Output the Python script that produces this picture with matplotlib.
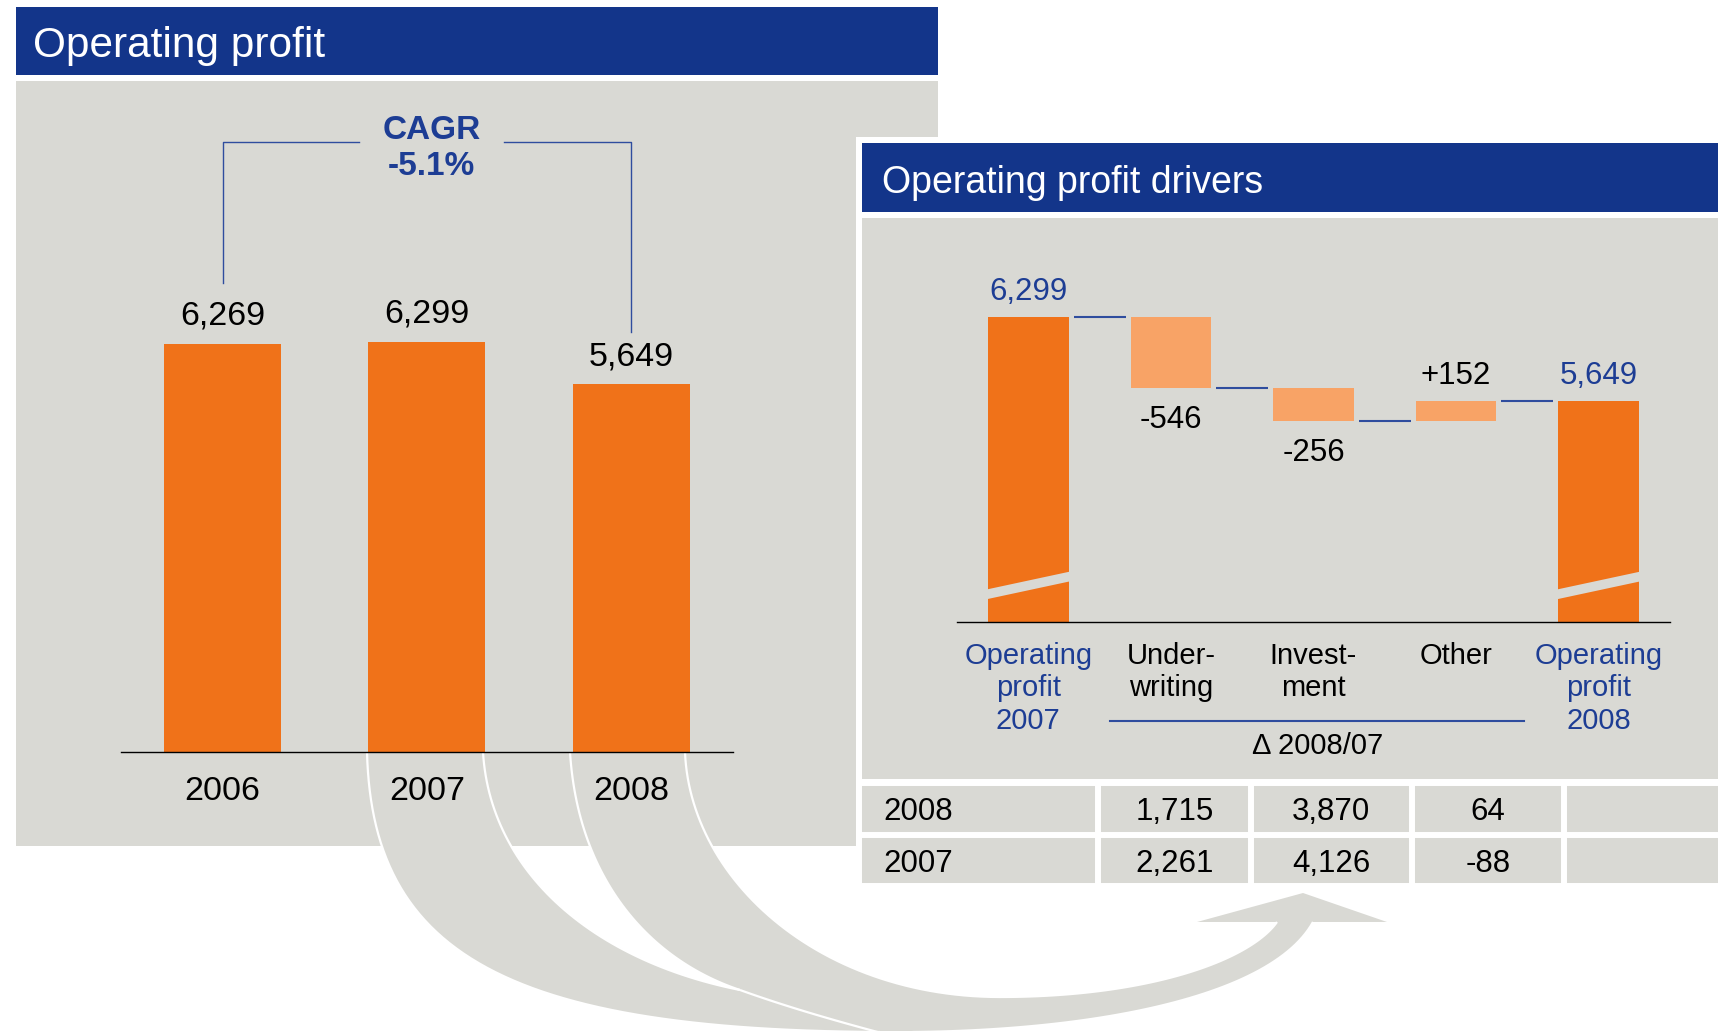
import numpy as np
import matplotlib
matplotlib.use("Agg")
import matplotlib.pyplot as plt
import matplotlib.transforms as mtransforms
from matplotlib.patches import Rectangle, Polygon

# ---------------- data ----------------
years = ["2006", "2007", "2008"]
op_profit = [6269, 6299, 5649]
cagr_title = "CAGR"
cagr_value = "-5.1%"

wf_categories = ["Operating\nprofit\n2007", "Under-\nwriting", "Invest-\nment", "Other",
                 "Operating\nprofit\n2008"]
wf_start = 6299
wf_deltas = [-546, -256, 152]
wf_delta_labels = ["-546", "-256", "+152"]
wf_end = 5649
delta_caption = "\u0394 2008/07"

table_years = ["2008", "2007"]
table_underwriting = [1715, 2261]
table_investment = [3870, 4126]
table_other = [64, -88]

title_left = "Operating profit"
title_right = "Operating profit drivers"

# ---------------- style ----------------
ORANGE = '#F07219'
LIGHT_ORANGE = '#F8A366'
NAVY = '#13358A'
BLUE_TXT = '#1D3D94'
LINE_BLUE = '#2F4D9E'
GRAY = '#D9D9D4'

plt.rcParams['font.family'] = ['Liberation Sans', 'DejaVu Sans']

W, H = 1718, 1031
fig = plt.figure(figsize=(W / 100, H / 100), dpi=100)
fig.patch.set_facecolor('white')


def frac(x0, y0, x1, y1):
    return [x0 / W, 1 - y1 / H, (x1 - x0) / W, (y1 - y0) / H]


def bez(*segments, n=60):
    """Chain of cubic Bezier segments, each given as (p0, p1, p2, p3)."""
    out = []
    t = np.linspace(0, 1, n)[:, None]
    for (p0, p1, p2, p3) in segments:
        p0, p1, p2, p3 = map(np.asarray, (p0, p1, p2, p3))
        out.append((1 - t) ** 3 * p0 + 3 * (1 - t) ** 2 * t * p1
                   + 3 * (1 - t) * t ** 2 * p2 + t ** 3 * p3)
    return np.vstack(out)


# ---------------- background layer ----------------
bg = fig.add_axes([0, 0, 1, 1], zorder=0)
bg.set_xlim(0, W)
bg.set_ylim(H, 0)
bg.axis('off')

bg.add_patch(Rectangle((16, 7), 922, 68, color=NAVY, lw=0))
bg.add_patch(Rectangle((16, 81), 922, 765, color=GRAY, lw=0))
bg.text(33, 56.5, title_left, color='white', fontsize=30.5, va='baseline', ha='left')

# decorative flow arrow
M = (740, 990)
LA = bez(((367, 752), (372, 950), (500, 1030), (880, 1032)),
         ((880, 1032), (1080, 1034), (1270, 1000), (1313, 922)))
RB = bez(((685, 752), (690, 880), (820, 997), (1000, 997)),
         ((1000, 997), (1150, 997), (1250, 960), (1277, 922)))
RA = bez(((483, 752), (490, 870), (590, 960), M))
LB = bez(((570, 752), (578, 880), (650, 960), M))
CONT = bez((M, (790, 1008), (840, 1022), (885, 1034)))
head = np.array([(1387, 922), (1303, 893), (1197, 922)])

poly = np.vstack([LA, head, RB[::-1], LB, RA[::-1]])
bg.add_patch(Polygon(poly, closed=True, color=GRAY, lw=0, zorder=1))
for c in (LA, RA, LB, RB, CONT):
    bg.plot(c[:, 0], c[:, 1], color='white', lw=1.6, zorder=2, solid_capstyle='butt')

# ---------------- left bar chart ----------------
ax1 = fig.add_axes(frac(120.5, 81, 733.25, 752), zorder=1)
ax1.patch.set_visible(False)
x1 = np.arange(len(years))
ax1.bar(x1, op_profit, width=0.573, color=ORANGE, lw=0)
ax1.set_xlim(-0.5, 2.5)
ax1.set_ylim(0, 10310)
for s in ['top', 'right', 'left']:
    ax1.spines[s].set_visible(False)
ax1.spines['bottom'].set_linewidth(1.0)
ax1.set_xticks([])
ax1.set_yticks([])
for i, v in enumerate(op_profit):
    ax1.annotate(f"{v:,}", (i, v), xytext=(0, 22.5), textcoords='offset points',
                 ha='center', va='center_baseline', fontsize=24.5)
    ax1.annotate(years[i], (i, 0), xytext=(0, -25.9), textcoords='offset points',
                 ha='center', va='center_baseline', fontsize=24.5, annotation_clip=False)

# CAGR bracket
br_y = 9373
ax1.plot([0, 0, 0.668], [7206, br_y, br_y], color=LINE_BLUE, lw=1.0)
ax1.plot([1.378, 2, 2], [br_y, br_y, 6453], color=LINE_BLUE, lw=1.0)
ax1.text(1.023, 9603, cagr_title, ha='center', va='center_baseline', fontsize=24,
         fontweight='bold', color=BLUE_TXT)
ax1.text(1.023, 9050, cagr_value, ha='center', va='center_baseline', fontsize=24,
         fontweight='bold', color=BLUE_TXT)

# ---------------- right panel background ----------------
fg = fig.add_axes([0, 0, 1, 1], zorder=2)
fg.set_xlim(0, W)
fg.set_ylim(H, 0)
fg.axis('off')
fg.patch.set_visible(False)
fg.add_patch(Rectangle((856, 137), W - 856, 749, color='white', lw=0))
fg.add_patch(Rectangle((862, 143), W - 862, 69, color=NAVY, lw=0))
fg.add_patch(Rectangle((862, 218), W - 862, 561, color=GRAY, lw=0))
fg.text(882, 193, title_right, color='white', fontsize=27, va='baseline', ha='left')

# ---------------- waterfall ----------------
ax2 = fig.add_axes(frac(957, 218, 1670, 621.5), zorder=3)
ax2.patch.set_visible(False)
ax2.set_xlim(-0.5, 4.5)
ax2.set_ylim(3957, 7060)
for s in ['top', 'right', 'left']:
    ax2.spines[s].set_visible(False)
ax2.spines['bottom'].set_linewidth(1.0)
ax2.set_xticks([])
ax2.set_yticks([])

bw = 0.565
ax2.bar([0, 4], [wf_start, wf_end], width=bw, color=ORANGE, lw=0, zorder=2)
levels = [wf_start]
for d in wf_deltas:
    levels.append(levels[-1] + d)
for k, d in enumerate(wf_deltas):
    lo = min(levels[k], levels[k + 1])
    ax2.bar(k + 1, abs(d), bottom=lo, width=bw, color=LIGHT_ORANGE, lw=0, zorder=2)

# axis-break marks on the total bars
for i in (0, 4):
    ax2.add_patch(Polygon([(i - 0.31, 4199), (i + 0.31, 4345), (i + 0.31, 4270),
                           (i - 0.31, 4124)], closed=True, color=GRAY, lw=0, zorder=3))

# connectors
for i in range(4):
    lvl = levels[i] if i < 3 else wf_end
    ax2.plot([i + bw / 2 + 0.035, i + 1 - bw / 2 - 0.035], [lvl, lvl], color=LINE_BLUE,
             lw=1.5, zorder=2, solid_capstyle='butt')

# value labels
ax2.annotate(f"{wf_start:,}", (0, wf_start), xytext=(0, 20.2), textcoords='offset points',
             ha='center', va='center_baseline', fontsize=22.5, color=BLUE_TXT)
ax2.annotate(f"{wf_end:,}", (4, wf_end), xytext=(0, 20.6), textcoords='offset points',
             ha='center', va='center_baseline', fontsize=22.5, color=BLUE_TXT)
for k, d in enumerate(wf_deltas):
    off = -20.2 if d < 0 else 20.6
    ax2.annotate(wf_delta_labels[k], (k + 1, levels[k + 1]), xytext=(0, off),
                 textcoords='offset points', ha='center', va='center_baseline',
                 fontsize=22.5)

# category labels
for i, lab in enumerate(wf_categories):
    col = BLUE_TXT if i in (0, 4) else 'black'
    ax2.annotate(lab, (i, 0), xycoords=('data', 'axes fraction'), xytext=(0, -14.6),
                 textcoords='offset points', ha='center', va='top', fontsize=21,
                 linespacing=1.2, color=col, annotation_clip=False)

blend = mtransforms.blended_transform_factory(ax2.transData, ax2.transAxes)
ax2.plot([0.573, 3.476], [-0.2466, -0.2466], transform=blend, color=LINE_BLUE, lw=1.5,
         clip_on=False)
ax2.text(2.03, -0.301, delta_caption, transform=blend, ha='center', va='center_baseline',
         fontsize=21)

# ---------------- table ----------------
axt = fig.add_axes(frac(859, 783, 1721, 886), zorder=4)
axt.axis('off')
cell_text = []
for r in range(len(table_years)):
    cell_text.append([table_years[r], f"{table_underwriting[r]:,}",
                      f"{table_investment[r]:,}", f"{table_other[r]:,}", ""])
col_w = np.array([239, 153, 160.5, 152.5, 157.0])
tbl = axt.table(cellText=cell_text, colWidths=list(col_w / col_w.sum()),
                bbox=[0, 0, 1, 1], cellLoc='center')
tbl.auto_set_font_size(False)
for (r, c), cell in tbl.get_celld().items():
    cell.set_facecolor(GRAY)
    cell.set_edgecolor('white')
    cell.set_linewidth(4.3)
    cell.get_text().set_fontsize(22.5)
    cell.get_text().set_va('center_baseline')
    if c == 0:
        cell.get_text().set_ha('left')

fig.savefig("out.png", dpi=100, facecolor='white')
